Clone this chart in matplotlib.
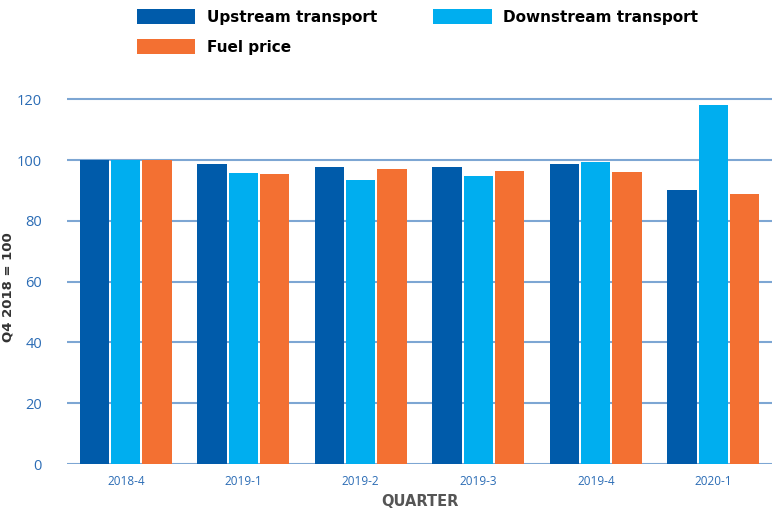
import matplotlib
matplotlib.use("Agg")
import matplotlib.pyplot as plt
import numpy as np

quarters = ["2018-4", "2019-1", "2019-2", "2019-3", "2019-4", "2020-1"]
upstream = [100, 98.7, 97.7, 97.7, 98.7, 90.1]
downstream = [100, 95.7, 93.4, 94.7, 99.3, 118.1]
fuel = [100, 95.4, 97.0, 96.4, 96.1, 88.8]
series_names = ["Upstream transport", "Downstream transport", "Fuel price"]
colors = ["#005baa", "#00aeef", "#f37032"]
yticks = [0, 20, 40, 60, 80, 100, 120]

fig = plt.figure(figsize=(7.72, 5.13), dpi=100)
ax = fig.add_axes([67/772, 1-464/513, 1-67/772, (464-84)/513])

x = np.arange(len(quarters))
w = 0.248
off = 0.266
bars = []
for i, (vals, name, c) in enumerate(zip([upstream, downstream, fuel], series_names, colors)):
    b = ax.bar(x + (i-1)*off, vals, width=w, color=c, label=name, zorder=3)
    bars.append(b)

ax.set_xlim(-0.5, 5.5)
ax.set_ylim(0, 125)
ax.set_yticks(yticks)
grid_c = "#7da6d3"
for t in yticks:
    ax.axhline(t, color=grid_c, lw=1.5, zorder=1)
for s in ax.spines.values():
    s.set_visible(False)
ax.tick_params(axis="y", length=0, pad=18, labelsize=10.5, labelcolor="#2b6cb5")
ax.tick_params(axis="x", length=0, pad=8, labelsize=8.5, labelcolor="#2b6cb5")
ax.set_xticks(x)
ax.set_xticklabels(quarters, family="Open Sans")
for lab in ax.get_yticklabels():
    lab.set_family("Open Sans")

ax.set_xlabel("QUARTER", fontsize=10.5, fontweight="bold", color="#555555", labelpad=4)
ax.set_ylabel("Q4 2018 = 100", fontsize=9.5, fontweight="bold", color="#333333")
ax.yaxis.set_label_coords(-0.075, 0.466)

order = [0, 2, 1]
fig.legend(handles=[bars[i] for i in order], labels=[series_names[i] for i in order],
           ncol=2, loc="upper left",
           bbox_to_anchor=(128/772, 1.0), frameon=False,
           prop={"weight": "bold", "size": 11},
           handlelength=3.8, handleheight=1.1, handletextpad=0.75,
           columnspacing=3.7, labelspacing=0.95, borderaxespad=0.2)

fig.savefig("out.png", dpi=100)
